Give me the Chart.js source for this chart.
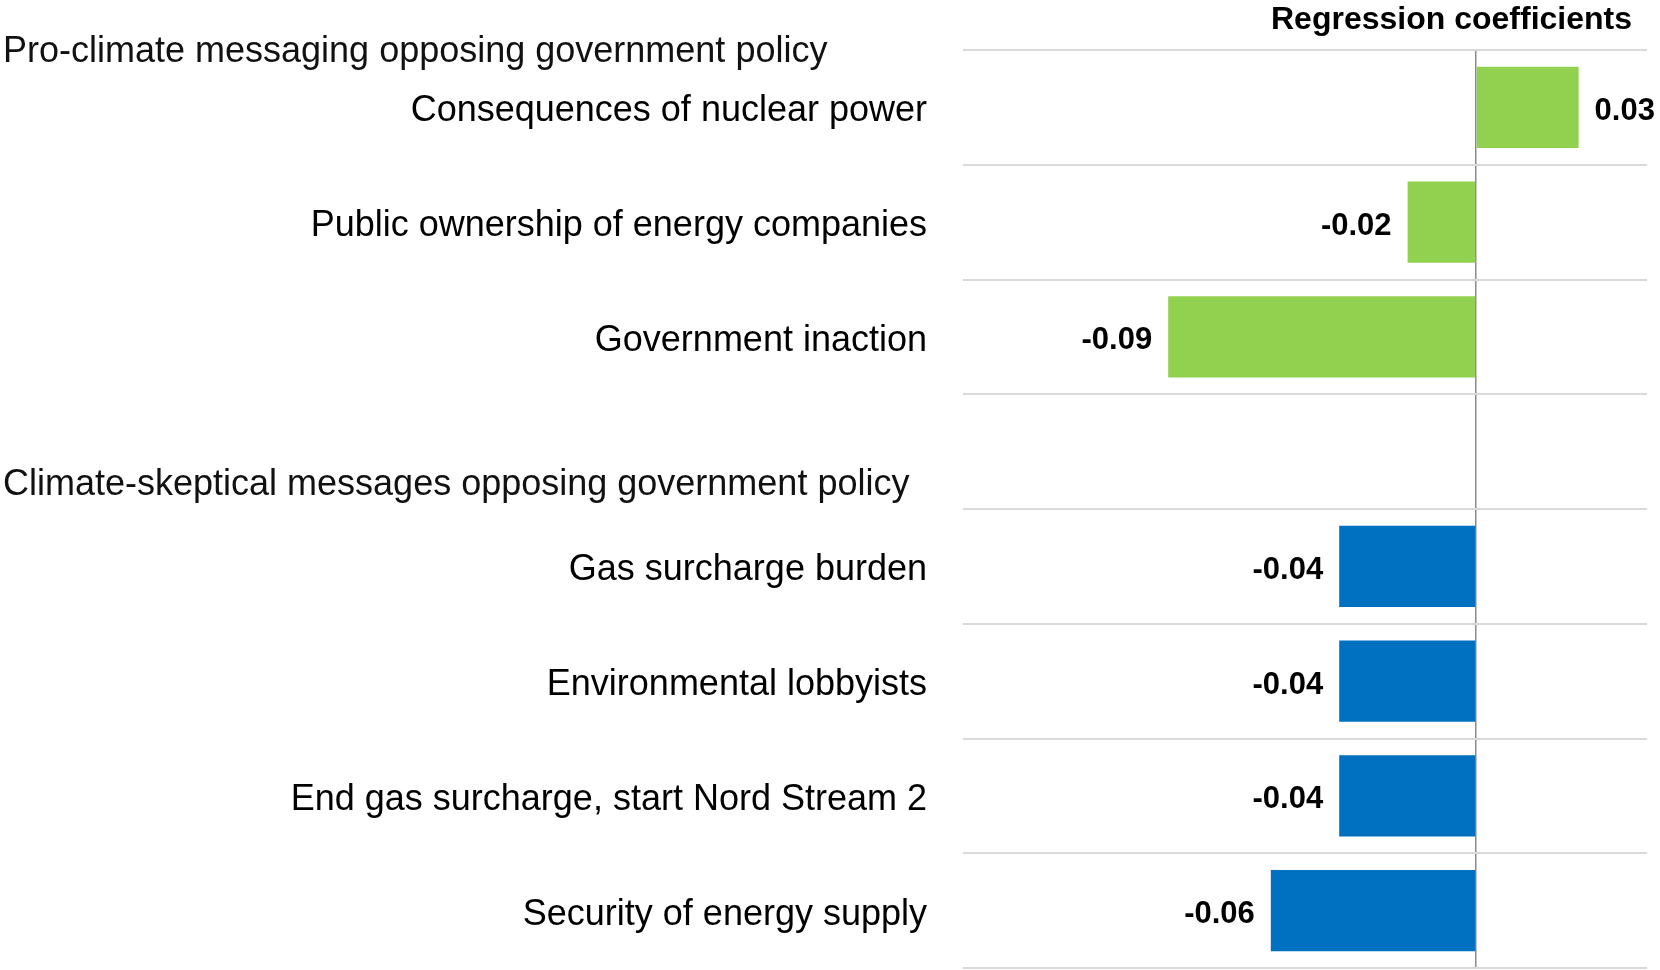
<!DOCTYPE html>
<html>
<head>
<meta charset="utf-8">
<script src="https://cdn.jsdelivr.net/npm/chart.js@4.4.1/dist/chart.umd.min.js"></script>
<style>
  html, body { margin: 0; padding: 0; background: #fff; }
  #wrap { width: 1660px; height: 970px; }
</style>
</head>
<body>
<div id="wrap"><canvas id="coefChart" width="1660" height="970"></canvas></div>
<script>
// one row per message; the empty row leaves room for the second group heading
const categories = [
    "Consequences of nuclear power",
    "Public ownership of energy companies",
    "Government inaction",
    "",
    "Gas surcharge burden",
    "Environmental lobbyists",
    "End gas surcharge, start Nord Stream 2",
    "Security of energy supply"
];
const coefficients = [0.03, -0.02, -0.09, null, -0.04, -0.04, -0.04, -0.06];
const groupOf = ["pro", "pro", "pro", null, "skeptic", "skeptic", "skeptic", "skeptic"];
const groupColors = { pro: "#92d050", skeptic: "#0070c0" };
const groupTitles = [
    "Pro-climate messaging opposing government policy",
    "Climate-skeptical messages opposing government policy"
];
const axisTitle = "Regression coefficients";
const xMin = -0.15;
const xMax = 0.05;

const FONT = '"Liberation Sans", Arial, sans-serif';

const valueLabels = {
    id: "valueLabels",
    afterDatasetsDraw(chart) {
        const ctx = chart.ctx;
        const meta = chart.getDatasetMeta(0);
        ctx.save();
        ctx.font = "bold 31px " + FONT;
        ctx.fillStyle = "#000";
        ctx.textBaseline = "middle";
        meta.data.forEach((bar, i) => {
            const v = coefficients[i];
            if (v === null) return;
            if (v >= 0) {
                ctx.textAlign = "left";
                ctx.fillText(v.toFixed(2), bar.x + 16, bar.y + 4);
            } else {
                ctx.textAlign = "right";
                ctx.fillText(v.toFixed(2), bar.x - 16, bar.y + 4);
            }
        });
        ctx.restore();
    }
};

// axis title over the bars and the two group headings on the left
const headings = {
    id: "headings",
    afterDraw(chart) {
        const ctx = chart.ctx;
        const y = chart.scales.y;
        const area = chart.chartArea;
        ctx.save();
        ctx.fillStyle = "#000";
        ctx.textBaseline = "alphabetic";

        ctx.font = "bold 32px " + FONT;
        ctx.textAlign = "right";
        ctx.fillText(axisTitle, area.right - 15, 29);

        ctx.font = "36px " + FONT;
        ctx.fillStyle = "#111";
        ctx.textAlign = "left";
        ctx.fillText(groupTitles[0], 3, y.getPixelForValue(0) - 45);
        ctx.fillText(groupTitles[1], 3, y.getPixelForValue(3) + 43);
        ctx.restore();
    }
};

new Chart(document.getElementById("coefChart"), {
    type: "bar",
    data: {
        labels: categories,
        datasets: [{
            data: coefficients,
            backgroundColor: groupOf.map(g => g ? groupColors[g] : "transparent"),
            borderWidth: 0,
            barPercentage: 0.71,
            categoryPercentage: 1
        }]
    },
    options: {
        indexAxis: "y",
        responsive: false,
        animation: false,
        devicePixelRatio: 1,
        layout: { padding: { left: 0, right: 13, top: 50, bottom: 2 } },
        plugins: {
            legend: { display: false },
            tooltip: { enabled: false }
        },
        scales: {
            x: {
                type: "linear",
                min: xMin,
                max: xMax,
                ticks: { display: false, stepSize: 0.05 },
                border: { display: false },
                grid: {
                    drawTicks: false,
                    lineWidth: 1.5,
                    color: c => (c.tick && Math.abs(c.tick.value) < 1e-9) ? "#8a8a8a" : "rgba(0,0,0,0)"
                },
                afterFit(scale) {
                    scale.height = 0;
                }
            },
            y: {
                type: "category",
                offset: true,
                border: { display: false },
                grid: {
                    offset: true,
                    drawTicks: false,
                    lineWidth: 2,
                    color: "#d9d9d9"
                },
                ticks: {
                    color: "#000",
                    padding: 36,
                    labelOffset: 4,
                    font: { family: FONT, size: 36 }
                },
                afterFit(scale) {
                    scale.width = 963;
                    // labels sit between grid lines, so no room is needed above or below
                    scale.paddingTop = 0;
                    scale.paddingBottom = 0;
                }
            }
        }
    },
    plugins: [valueLabels, headings]
});
</script>
</body>
</html>
